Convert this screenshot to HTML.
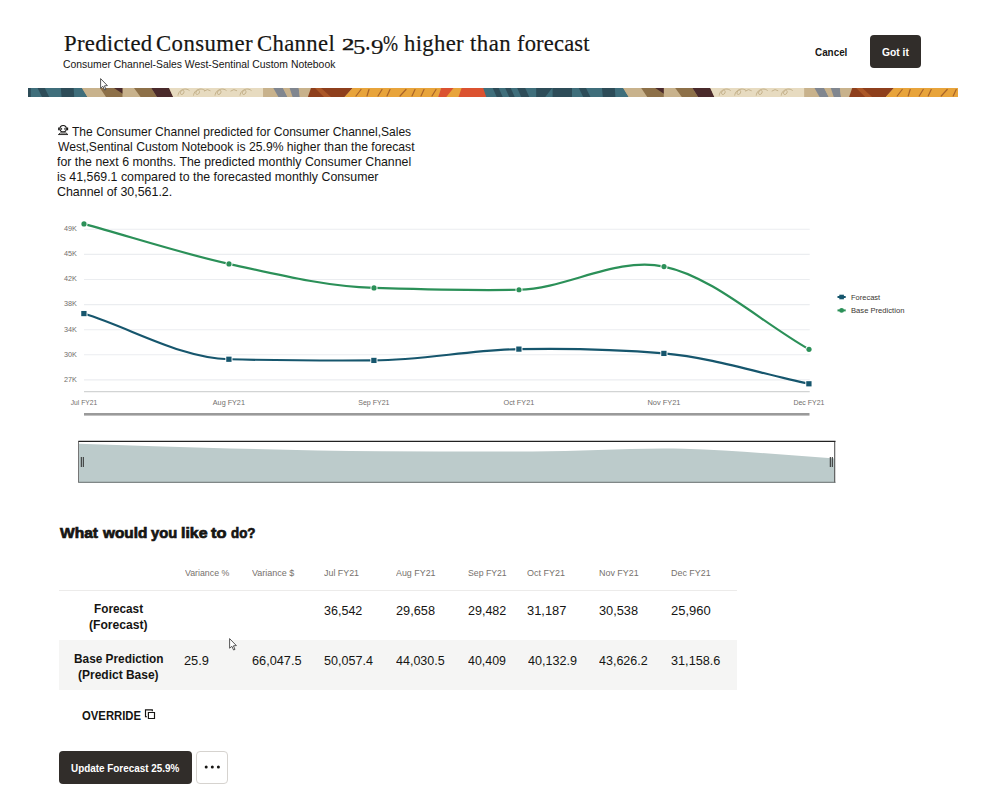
<!DOCTYPE html>
<html lang="en"><head><meta charset="utf-8"><title>Predicted Consumer Channel 25.9% higher than forecast</title>
<style>
html,body{margin:0;padding:0;background:#fff}
body{width:982px;height:811px;position:relative;overflow:hidden;font-family:"Liberation Sans",sans-serif}
h1,h2,p,figure{margin:0;font-size:inherit;font-weight:normal}
.t{position:absolute;white-space:nowrap;margin:0;transform-origin:0 0;display:block}
.abs{position:absolute}
.ax{font:8px "Liberation Sans",sans-serif;fill:#716e6b}
.lg{font:8px "Liberation Sans",sans-serif;fill:#3a3632}
.btn{position:absolute;box-sizing:border-box;border-radius:4px;border:0;padding:0;margin:0;font:inherit;background:none;overflow:visible;text-align:left}
.btn.dark{background:#312d2a}
.btn.more{background:#fff;border:1px solid #d6d3cf}
</style></head><body>
<header><h1><span class="t" style="left:63.63px;top:28.90px;font:400 22.3px/29px 'Liberation Serif', serif;color:#161513;transform:scaleX(1.0191);letter-spacing:0.293px;-webkit-text-stroke:0.18px #161513;">Predicted</span> <span class="t" style="left:156.19px;top:28.90px;font:400 22.3px/29px 'Liberation Serif', serif;color:#161513;transform:scaleX(1.0212);letter-spacing:0.404px;-webkit-text-stroke:0.18px #161513;">Consumer</span> <span class="t" style="left:257.39px;top:28.90px;font:400 22.3px/29px 'Liberation Serif', serif;color:#161513;transform:scaleX(1.0185);letter-spacing:0.332px;-webkit-text-stroke:0.18px #161513;">Channel</span> <span class="t" style="left:341.51px;top:34.90px;font:400 16.2px/21px 'Liberation Serif', serif;color:#161513;transform:scaleX(1.5256);-webkit-text-stroke:0.45px #161513;">2</span><span class="t" style="left:352.53px;top:33.40px;font:400 21.7px/28px 'Liberation Serif', serif;color:#161513;transform:scaleX(1.1473);-webkit-text-stroke:0.18px #161513;">5</span><span class="t" style="left:364.74px;top:24.40px;font:400 27px/35px 'Liberation Serif', serif;color:#161513;transform:scaleX(0.8333);-webkit-text-stroke:0.18px #161513;">.</span><span class="t" style="left:370.95px;top:33.30px;font:400 21.2px/28px 'Liberation Serif', serif;color:#161513;transform:scaleX(1.1855);-webkit-text-stroke:0.18px #161513;">9</span><span class="t" style="left:383.36px;top:28.90px;font:400 22.3px/29px 'Liberation Serif', serif;color:#161513;transform:scaleX(0.8096);-webkit-text-stroke:0.18px #161513;">%</span> <span class="t" style="left:404.09px;top:28.90px;font:400 22.3px/29px 'Liberation Serif', serif;color:#161513;transform:scaleX(1.0186);letter-spacing:0.310px;-webkit-text-stroke:0.18px #161513;">higher</span> <span class="t" style="left:470.09px;top:28.90px;font:400 22.3px/29px 'Liberation Serif', serif;color:#161513;transform:scaleX(1.0249);letter-spacing:0.460px;-webkit-text-stroke:0.18px #161513;">than</span> <span class="t" style="left:517.22px;top:28.90px;font:400 22.3px/29px 'Liberation Serif', serif;color:#161513;transform:scaleX(1.0113);letter-spacing:0.167px;-webkit-text-stroke:0.18px #161513;">forecast</span></h1><div class="t" style="left:63.28px;top:57.60px;font:400 10.3px/13px 'Liberation Sans', sans-serif;color:#161513;transform:scaleX(1.0090);">Consumer Channel-Sales West-Sentinal Custom Notebook</div><button type="button" class="btn ghost" style="left:806px;top:35px;width:51px;height:33px"><span class="t" style="left:9.31px;top:9.70px;font:700 10.5px/14px 'Liberation Sans', sans-serif;color:#161513;transform:scaleX(0.9399);">Cancel</span></button><button type="button" class="btn dark" style="left:869.6px;top:35.0px;width:51.6px;height:33px"><span class="t" style="left:11.99px;top:9.70px;font:700 10.5px/14px 'Liberation Sans', sans-serif;color:#fff;transform:scaleX(0.9812);">Got it</span></button></header>
<svg style="position:absolute;left:0;top:88px" width="982" height="9" viewBox="0 0 982 9"><defs><clipPath id="sc"><rect x="28" y="0" width="930" height="9"/></clipPath></defs><g clip-path="url(#sc)"><rect x="28" y="0" width="930" height="9" fill="#c8b28c"/><polygon points="-599.2,0 -459.2,0 -453.7,9 -596.2,9" fill="#3f6e7b"/><polygon points="-589.7,0 -583.7,0 -579.7,9 -585.7,9" fill="#2d4c58"/><polygon points="-577.2,0 -571.7,0 -567.7,9 -573.2,9" fill="#2d4c58"/><polygon points="-565.2,0 -557.2,0 -553.2,9 -561.2,9" fill="#2d4c58"/><polygon points="-546.2,0 -530.2,0 -537.2,9 -546.2,9" fill="#2d4c58"/><polygon points="-529.8,0 -510.4,0 -510.4,9 -529.8,9" fill="#2d4c58"/><polygon points="-503.6,0 -496.4,0 -492.0,9 -499.2,9" fill="#2d4c58"/><polygon points="-480.4,0 -467.6,0 -467.0,9 -479.6,9" fill="#2d4c58"/><polygon points="-459.2,0 -441.2,0 -435.2,9 -453.7,9" fill="#c8b28c"/><polygon points="-441.2,0 -418.5,0 -418.5,9 -435.2,9" fill="#8d7048"/><polygon points="-427.2,0.0 -418.5,0.0 -418.5,5.7" fill="#4a2a2b"/><polygon points="-418.5,0 -407.2,0 -400.6,9 -418.5,9" fill="#c8b28c"/><polygon points="-407.2,0 -390.0,0 -384.3,9 -400.6,9" fill="#8d7048"/><polygon points="-390.0,0 -372.1,0 -368.0,9 -384.3,9" fill="#4a2a2b"/><polygon points="-372.1,0 -278.0,0 -278.0,9 -368.0,9" fill="#e7dbc0"/><polygon points="-278.0,0 -267.9,0 -262.8,9 -278.0,9" fill="#c8b28c"/><polygon points="-267.9,0 -258.2,0 -253.7,9 -262.8,9" fill="#80868f"/><polygon points="-258.2,0 -251.6,0 -248.6,9 -253.7,9" fill="#c8b28c"/><polygon points="-251.6,0 -242.5,0 -241.4,9 -248.6,9" fill="#80868f"/><polygon points="-242.5,0 -230.2,0 -233.3,9 -241.4,9" fill="#c8b28c"/><polygon points="-230.2,0 -188.5,0 -196.6,9 -233.3,9" fill="#8e3f1c"/><polygon points="-226.2,0.0 -220.2,0.0 -210.2,9.0 -217.2,9.0" fill="#ab5727"/><polygon points="-188.5,0 -100.0,0 -103.0,9 -196.6,9" fill="#e8a43b"/><polygon points="-100.0,0 -56.2,0 -53.2,9 -103.0,9" fill="#db5230"/><polygon points="-87.7,0 -79.6,0 -82.7,9 -94.9,9" fill="#e8a43b"/><path d="M-363.2 7.6 c0.5 -5 5.5 -7.5 6 -4 c0.3 3 -4.5 4.5 -3.5 0.5 c1.5 -3.5 6 -4 9 -1.5" fill="none" stroke="#c2af88" stroke-width="0.95"/><path d="M-347.7 7.6 c0.5 -5 5.5 -7.5 6 -4 c0.3 3 -4.5 4.5 -3.5 0.5 c1.5 -3.5 6 -4 9 -1.5" fill="none" stroke="#c2af88" stroke-width="0.95"/><path d="M-326.2 7.6 c0.5 -5 5.5 -7.5 6 -4 c0.3 3 -4.5 4.5 -3.5 0.5 c1.5 -3.5 6 -4 9 -1.5" fill="none" stroke="#c2af88" stroke-width="0.95"/><path d="M-301.2 7.6 c0.5 -5 5.5 -7.5 6 -4 c0.3 3 -4.5 4.5 -3.5 0.5 c1.5 -3.5 6 -4 9 -1.5" fill="none" stroke="#c2af88" stroke-width="0.95"/><path d="M-337.2 3.2 q3.5 -3 6.5 -0.4" fill="none" stroke="#c2af88" stroke-width="0.9"/><path d="M-310.7 3.2 q3.5 -3 6.5 -0.4" fill="none" stroke="#c2af88" stroke-width="0.9"/><path d="M-185.2 8 l5.0 -6.5" fill="none" stroke="#a8642a" stroke-width="1.2" stroke-linecap="round"/><path d="M-174.2 8 l2.0 -6.5" fill="none" stroke="#a8642a" stroke-width="1.2" stroke-linecap="round"/><path d="M-163.2 8 l4.0 -6.5" fill="none" stroke="#a8642a" stroke-width="1.2" stroke-linecap="round"/><path d="M-154.2 8 l3.0 -6.5" fill="none" stroke="#a8642a" stroke-width="1.2" stroke-linecap="round"/><path d="M-141.2 8 l6.0 -6.5" fill="none" stroke="#a8642a" stroke-width="1.2" stroke-linecap="round"/><path d="M-129.2 8 l3.0 -6.5" fill="none" stroke="#a8642a" stroke-width="1.2" stroke-linecap="round"/><path d="M-120.2 8 l3.0 -6.5" fill="none" stroke="#a8642a" stroke-width="1.2" stroke-linecap="round"/><path d="M-109.2 8 l4.0 -6.5" fill="none" stroke="#a8642a" stroke-width="1.2" stroke-linecap="round"/><polygon points="-58.0,0 82.0,0 87.5,9 -55.0,9" fill="#3f6e7b"/><polygon points="-48.5,0 -42.5,0 -38.5,9 -44.5,9" fill="#2d4c58"/><polygon points="-36.0,0 -30.5,0 -26.5,9 -32.0,9" fill="#2d4c58"/><polygon points="-24.0,0 -16.0,0 -12.0,9 -20.0,9" fill="#2d4c58"/><polygon points="-5.0,0 11.0,0 4.0,9 -5.0,9" fill="#2d4c58"/><polygon points="11.4,0 30.8,0 30.8,9 11.4,9" fill="#2d4c58"/><polygon points="37.6,0 44.8,0 49.2,9 42.0,9" fill="#2d4c58"/><polygon points="60.8,0 73.6,0 74.2,9 61.6,9" fill="#2d4c58"/><polygon points="82.0,0 100.0,0 106.0,9 87.5,9" fill="#c8b28c"/><polygon points="100.0,0 122.7,0 122.7,9 106.0,9" fill="#8d7048"/><polygon points="114.0,0.0 122.7,0.0 122.7,5.7" fill="#4a2a2b"/><polygon points="122.7,0 134.0,0 140.6,9 122.7,9" fill="#c8b28c"/><polygon points="134.0,0 151.2,0 156.9,9 140.6,9" fill="#8d7048"/><polygon points="151.2,0 169.1,0 173.2,9 156.9,9" fill="#4a2a2b"/><polygon points="169.1,0 263.2,0 263.2,9 173.2,9" fill="#e7dbc0"/><polygon points="263.2,0 273.3,0 278.4,9 263.2,9" fill="#c8b28c"/><polygon points="273.3,0 283.0,0 287.5,9 278.4,9" fill="#80868f"/><polygon points="283.0,0 289.6,0 292.6,9 287.5,9" fill="#c8b28c"/><polygon points="289.6,0 298.7,0 299.8,9 292.6,9" fill="#80868f"/><polygon points="298.7,0 311.0,0 307.9,9 299.8,9" fill="#c8b28c"/><polygon points="311.0,0 352.7,0 344.6,9 307.9,9" fill="#8e3f1c"/><polygon points="315.0,0.0 321.0,0.0 331.0,9.0 324.0,9.0" fill="#ab5727"/><polygon points="352.7,0 441.2,0 438.2,9 344.6,9" fill="#e8a43b"/><polygon points="441.2,0 485.0,0 488.0,9 438.2,9" fill="#db5230"/><polygon points="453.5,0 461.6,0 458.5,9 446.3,9" fill="#e8a43b"/><path d="M178.0 7.6 c0.5 -5 5.5 -7.5 6 -4 c0.3 3 -4.5 4.5 -3.5 0.5 c1.5 -3.5 6 -4 9 -1.5" fill="none" stroke="#c2af88" stroke-width="0.95"/><path d="M193.5 7.6 c0.5 -5 5.5 -7.5 6 -4 c0.3 3 -4.5 4.5 -3.5 0.5 c1.5 -3.5 6 -4 9 -1.5" fill="none" stroke="#c2af88" stroke-width="0.95"/><path d="M215.0 7.6 c0.5 -5 5.5 -7.5 6 -4 c0.3 3 -4.5 4.5 -3.5 0.5 c1.5 -3.5 6 -4 9 -1.5" fill="none" stroke="#c2af88" stroke-width="0.95"/><path d="M240.0 7.6 c0.5 -5 5.5 -7.5 6 -4 c0.3 3 -4.5 4.5 -3.5 0.5 c1.5 -3.5 6 -4 9 -1.5" fill="none" stroke="#c2af88" stroke-width="0.95"/><path d="M204.0 3.2 q3.5 -3 6.5 -0.4" fill="none" stroke="#c2af88" stroke-width="0.9"/><path d="M230.5 3.2 q3.5 -3 6.5 -0.4" fill="none" stroke="#c2af88" stroke-width="0.9"/><path d="M356.0 8 l5.0 -6.5" fill="none" stroke="#a8642a" stroke-width="1.2" stroke-linecap="round"/><path d="M367.0 8 l2.0 -6.5" fill="none" stroke="#a8642a" stroke-width="1.2" stroke-linecap="round"/><path d="M378.0 8 l4.0 -6.5" fill="none" stroke="#a8642a" stroke-width="1.2" stroke-linecap="round"/><path d="M387.0 8 l3.0 -6.5" fill="none" stroke="#a8642a" stroke-width="1.2" stroke-linecap="round"/><path d="M400.0 8 l6.0 -6.5" fill="none" stroke="#a8642a" stroke-width="1.2" stroke-linecap="round"/><path d="M412.0 8 l3.0 -6.5" fill="none" stroke="#a8642a" stroke-width="1.2" stroke-linecap="round"/><path d="M421.0 8 l3.0 -6.5" fill="none" stroke="#a8642a" stroke-width="1.2" stroke-linecap="round"/><path d="M432.0 8 l4.0 -6.5" fill="none" stroke="#a8642a" stroke-width="1.2" stroke-linecap="round"/><polygon points="483.2,0 623.2,0 628.7,9 486.2,9" fill="#3f6e7b"/><polygon points="492.7,0 498.7,0 502.7,9 496.7,9" fill="#2d4c58"/><polygon points="505.2,0 510.7,0 514.7,9 509.2,9" fill="#2d4c58"/><polygon points="517.2,0 525.2,0 529.2,9 521.2,9" fill="#2d4c58"/><polygon points="536.2,0 552.2,0 545.2,9 536.2,9" fill="#2d4c58"/><polygon points="552.6,0 572.0,0 572.0,9 552.6,9" fill="#2d4c58"/><polygon points="578.8,0 586.0,0 590.4,9 583.2,9" fill="#2d4c58"/><polygon points="602.0,0 614.8,0 615.4,9 602.8,9" fill="#2d4c58"/><polygon points="623.2,0 641.2,0 647.2,9 628.7,9" fill="#c8b28c"/><polygon points="641.2,0 663.9,0 663.9,9 647.2,9" fill="#8d7048"/><polygon points="655.2,0.0 663.9,0.0 663.9,5.7" fill="#4a2a2b"/><polygon points="663.9,0 675.2,0 681.8,9 663.9,9" fill="#c8b28c"/><polygon points="675.2,0 692.4,0 698.1,9 681.8,9" fill="#8d7048"/><polygon points="692.4,0 710.3,0 714.4,9 698.1,9" fill="#4a2a2b"/><polygon points="710.3,0 804.4,0 804.4,9 714.4,9" fill="#e7dbc0"/><polygon points="804.4,0 814.5,0 819.6,9 804.4,9" fill="#c8b28c"/><polygon points="814.5,0 824.2,0 828.7,9 819.6,9" fill="#80868f"/><polygon points="824.2,0 830.8,0 833.8,9 828.7,9" fill="#c8b28c"/><polygon points="830.8,0 839.9,0 841.0,9 833.8,9" fill="#80868f"/><polygon points="839.9,0 852.2,0 849.1,9 841.0,9" fill="#c8b28c"/><polygon points="852.2,0 893.9,0 885.8,9 849.1,9" fill="#8e3f1c"/><polygon points="856.2,0.0 862.2,0.0 872.2,9.0 865.2,9.0" fill="#ab5727"/><polygon points="893.9,0 982.4,0 979.4,9 885.8,9" fill="#e8a43b"/><polygon points="982.4,0 1026.2,0 1029.2,9 979.4,9" fill="#db5230"/><polygon points="994.7,0 1002.8,0 999.7,9 987.5,9" fill="#e8a43b"/><path d="M719.2 7.6 c0.5 -5 5.5 -7.5 6 -4 c0.3 3 -4.5 4.5 -3.5 0.5 c1.5 -3.5 6 -4 9 -1.5" fill="none" stroke="#c2af88" stroke-width="0.95"/><path d="M734.7 7.6 c0.5 -5 5.5 -7.5 6 -4 c0.3 3 -4.5 4.5 -3.5 0.5 c1.5 -3.5 6 -4 9 -1.5" fill="none" stroke="#c2af88" stroke-width="0.95"/><path d="M756.2 7.6 c0.5 -5 5.5 -7.5 6 -4 c0.3 3 -4.5 4.5 -3.5 0.5 c1.5 -3.5 6 -4 9 -1.5" fill="none" stroke="#c2af88" stroke-width="0.95"/><path d="M781.2 7.6 c0.5 -5 5.5 -7.5 6 -4 c0.3 3 -4.5 4.5 -3.5 0.5 c1.5 -3.5 6 -4 9 -1.5" fill="none" stroke="#c2af88" stroke-width="0.95"/><path d="M745.2 3.2 q3.5 -3 6.5 -0.4" fill="none" stroke="#c2af88" stroke-width="0.9"/><path d="M771.7 3.2 q3.5 -3 6.5 -0.4" fill="none" stroke="#c2af88" stroke-width="0.9"/><path d="M897.2 8 l5.0 -6.5" fill="none" stroke="#a8642a" stroke-width="1.2" stroke-linecap="round"/><path d="M908.2 8 l2.0 -6.5" fill="none" stroke="#a8642a" stroke-width="1.2" stroke-linecap="round"/><path d="M919.2 8 l4.0 -6.5" fill="none" stroke="#a8642a" stroke-width="1.2" stroke-linecap="round"/><path d="M928.2 8 l3.0 -6.5" fill="none" stroke="#a8642a" stroke-width="1.2" stroke-linecap="round"/><path d="M941.2 8 l6.0 -6.5" fill="none" stroke="#a8642a" stroke-width="1.2" stroke-linecap="round"/><path d="M953.2 8 l3.0 -6.5" fill="none" stroke="#a8642a" stroke-width="1.2" stroke-linecap="round"/><path d="M962.2 8 l3.0 -6.5" fill="none" stroke="#a8642a" stroke-width="1.2" stroke-linecap="round"/><path d="M973.2 8 l4.0 -6.5" fill="none" stroke="#a8642a" stroke-width="1.2" stroke-linecap="round"/></g></svg>
<p><svg class="abs" style="left:56px;top:123px" width="14" height="14" viewBox="56 123 14 14"><g fill="none" stroke="#161513" stroke-width="1.1"><circle cx="63.15" cy="128.65" r="3.15"/><path d="M58.9 127.5 v2.7 M67.4 127.5 v2.7" stroke-width="1.5"/><path d="M61.6 127.9 v1.9 M64.85 127.9 v1.9" stroke-width="0.9"/><path d="M60.3 133 H66.1 L67.9 134.55 H58.4 Z" stroke-linejoin="round" stroke-width="0.9"/></g></svg><span class="t" style="left:72.26px;top:123.90px;font:400 12.2px/16px 'Liberation Sans', sans-serif;color:#161513;transform:scaleX(0.9894);">The Consumer Channel predicted for Consumer Channel,Sales</span> <span class="t" style="left:57.50px;top:138.90px;font:400 12.2px/16px 'Liberation Sans', sans-serif;color:#161513;transform:scaleX(0.9974);">West,Sentinal Custom Notebook is 25.9% higher than the forecast</span> <span class="t" style="left:57.38px;top:153.90px;font:400 12.2px/16px 'Liberation Sans', sans-serif;color:#161513;transform:scaleX(1.0119);">for the next 6 months. The predicted monthly Consumer Channel</span> <span class="t" style="left:56.70px;top:168.80px;font:400 12.2px/16px 'Liberation Sans', sans-serif;color:#161513;transform:scaleX(1.0139);">is 41,569.1 compared to the forecasted monthly Consumer</span> <span class="t" style="left:56.88px;top:183.80px;font:400 12.2px/16px 'Liberation Sans', sans-serif;color:#161513;transform:scaleX(1.0181);">Channel of 30,561.2.</span></p>
<figure><svg style="position:absolute;left:0;top:0" width="982" height="811" viewBox="0 0 982 811"><line x1="84" x2="809.7" y1="229.3" y2="229.3" stroke="#ebedf0" stroke-width="1.1"/><text x="64" y="231.1" textLength="12.9" lengthAdjust="spacingAndGlyphs" class="ax">49K</text><line x1="84" x2="809.7" y1="254.4" y2="254.4" stroke="#ebedf0" stroke-width="1.1"/><text x="64" y="256.2" textLength="12.9" lengthAdjust="spacingAndGlyphs" class="ax">45K</text><line x1="84" x2="809.7" y1="279.5" y2="279.5" stroke="#ebedf0" stroke-width="1.1"/><text x="64" y="281.3" textLength="12.9" lengthAdjust="spacingAndGlyphs" class="ax">42K</text><line x1="84" x2="809.7" y1="304.6" y2="304.6" stroke="#ebedf0" stroke-width="1.1"/><text x="64" y="306.4" textLength="12.9" lengthAdjust="spacingAndGlyphs" class="ax">38K</text><line x1="84" x2="809.7" y1="329.7" y2="329.7" stroke="#ebedf0" stroke-width="1.1"/><text x="64" y="331.5" textLength="12.9" lengthAdjust="spacingAndGlyphs" class="ax">34K</text><line x1="84" x2="809.7" y1="354.8" y2="354.8" stroke="#ebedf0" stroke-width="1.1"/><text x="64" y="356.6" textLength="12.9" lengthAdjust="spacingAndGlyphs" class="ax">30K</text><line x1="84" x2="809.7" y1="379.9" y2="379.9" stroke="#ebedf0" stroke-width="1.1"/><text x="64" y="381.7" textLength="12.9" lengthAdjust="spacingAndGlyphs" class="ax">27K</text><line x1="84" x2="809.7" y1="391.7" y2="391.7" stroke="#d2d4d4" stroke-width="1.2"/><text x="70.7" y="405.4" textLength="26.5" lengthAdjust="spacingAndGlyphs" class="ax">Jul FY21</text><text x="212.8" y="405.4" textLength="32.1" lengthAdjust="spacingAndGlyphs" class="ax">Aug FY21</text><text x="358.2" y="405.4" textLength="31.3" lengthAdjust="spacingAndGlyphs" class="ax">Sep FY21</text><text x="503.6" y="405.4" textLength="30.6" lengthAdjust="spacingAndGlyphs" class="ax">Oct FY21</text><text x="647.4" y="405.4" textLength="33.1" lengthAdjust="spacingAndGlyphs" class="ax">Nov FY21</text><text x="793.4" y="405.4" textLength="31.0" lengthAdjust="spacingAndGlyphs" class="ax">Dec FY21</text><rect x="84" y="413" width="725.5" height="2.6" fill="#9a9a9a"/><path d="M84.00 313.57 C132.33 328.80 180.67 358.11 229.00 359.25 C277.33 360.39 325.67 360.66 374.00 360.42 C422.33 360.17 470.67 349.96 519.00 349.11 C567.33 348.25 615.67 349.19 664.00 353.41 C712.33 357.63 760.67 373.66 809.00 383.79" fill="none" stroke="#16566d" stroke-width="2.2"/><path d="M84.00 223.90 C132.33 237.23 180.67 253.22 229.00 263.89 C277.33 274.56 325.67 286.50 374.00 287.92 C422.33 289.33 470.67 290.92 519.00 289.75 C567.33 288.58 615.67 256.65 664.00 266.57 C712.33 276.50 760.67 321.72 809.00 349.29" fill="none" stroke="#2b9058" stroke-width="2.2"/><rect x="81.25" y="310.97" width="5.3" height="5.2" fill="#16566d" stroke="#fff" stroke-width="1.8" paint-order="stroke"/><rect x="226.25" y="356.65" width="5.3" height="5.2" fill="#16566d" stroke="#fff" stroke-width="1.8" paint-order="stroke"/><rect x="371.25" y="357.82" width="5.3" height="5.2" fill="#16566d" stroke="#fff" stroke-width="1.8" paint-order="stroke"/><rect x="516.25" y="346.51" width="5.3" height="5.2" fill="#16566d" stroke="#fff" stroke-width="1.8" paint-order="stroke"/><rect x="661.25" y="350.81" width="5.3" height="5.2" fill="#16566d" stroke="#fff" stroke-width="1.8" paint-order="stroke"/><rect x="806.25" y="381.19" width="5.3" height="5.2" fill="#16566d" stroke="#fff" stroke-width="1.8" paint-order="stroke"/><circle cx="84.00" cy="223.90" r="2.6" fill="#2b9058" stroke="#fff" stroke-width="1.8" paint-order="stroke"/><circle cx="229.00" cy="263.89" r="2.6" fill="#2b9058" stroke="#fff" stroke-width="1.8" paint-order="stroke"/><circle cx="374.00" cy="287.92" r="2.6" fill="#2b9058" stroke="#fff" stroke-width="1.8" paint-order="stroke"/><circle cx="519.00" cy="289.75" r="2.6" fill="#2b9058" stroke="#fff" stroke-width="1.8" paint-order="stroke"/><circle cx="664.00" cy="266.57" r="2.6" fill="#2b9058" stroke="#fff" stroke-width="1.8" paint-order="stroke"/><circle cx="809.00" cy="349.29" r="2.6" fill="#2b9058" stroke="#fff" stroke-width="1.8" paint-order="stroke"/><line x1="837.5" x2="845.7" y1="297" y2="297" stroke="#16566d" stroke-width="2"/><rect x="839.3" y="294.7" width="4.6" height="4.6" fill="#16566d"/><line x1="837.5" x2="845.7" y1="310.4" y2="310.4" stroke="#2b9058" stroke-width="2"/><circle cx="841.6" cy="310.4" r="2.4" fill="#2b9058"/><text x="851" y="299.9" textLength="29.2" lengthAdjust="spacingAndGlyphs" class="lg">Forecast</text><text x="851" y="313.3" textLength="53.4" lengthAdjust="spacingAndGlyphs" class="lg">Base Prediction</text><rect x="78.8" y="441" width="756.4" height="41.5" fill="#fff"/><path d="M79.00 443.80 C129.40 445.35 179.80 447.22 230.20 448.46 C280.60 449.70 331.00 451.10 381.40 451.26 C431.80 451.42 482.20 451.61 532.60 451.47 C583.00 451.34 633.40 447.62 683.80 448.77 C734.20 449.93 784.60 455.20 835.00 458.41 L835 482.5 L79 482.5 Z" fill="#bccbcb"/><path d="M78.5 482.5 V441.5" stroke="#767676" stroke-width="1" fill="none"/><path d="M834.7 482.5 V441.5" stroke="#555" stroke-width="1.1" fill="none"/><path d="M78.3 482.3 H835.5" stroke="#6a7070" stroke-width="1" fill="none"/><path d="M78.3 441.3 H835.5" stroke="#222" stroke-width="1.2" fill="none"/><line x1="81.3" x2="81.3" y1="457" y2="467" stroke="#2a2a2a" stroke-width="1"/><line x1="83.3" x2="83.3" y1="457" y2="467" stroke="#2a2a2a" stroke-width="1"/><line x1="830.3" x2="830.3" y1="457" y2="467" stroke="#2a2a2a" stroke-width="1"/><line x1="832.3" x2="832.3" y1="457" y2="467" stroke="#2a2a2a" stroke-width="1"/></svg></figure>
<h2><span class="t" style="left:59.90px;top:524.20px;font:700 14.6px/19px 'Liberation Sans', sans-serif;color:#161513;transform:scaleX(1.0662);-webkit-text-stroke:0.7px #161513;">What</span> <span class="t" style="left:102.78px;top:524.20px;font:700 14.6px/19px 'Liberation Sans', sans-serif;color:#161513;transform:scaleX(1.0518);-webkit-text-stroke:0.7px #161513;">would</span> <span class="t" style="left:151.03px;top:524.20px;font:700 14.6px/19px 'Liberation Sans', sans-serif;color:#161513;transform:scaleX(1.0076);-webkit-text-stroke:0.7px #161513;">you</span> <span class="t" style="left:180.67px;top:524.20px;font:700 14.6px/19px 'Liberation Sans', sans-serif;color:#161513;transform:scaleX(1.0899);-webkit-text-stroke:0.7px #161513;">like</span> <span class="t" style="left:211.44px;top:524.20px;font:700 14.6px/19px 'Liberation Sans', sans-serif;color:#161513;transform:scaleX(1.1217);-webkit-text-stroke:0.7px #161513;">to</span> <span class="t" style="left:230.67px;top:524.20px;font:700 14.6px/19px 'Liberation Sans', sans-serif;color:#161513;transform:scaleX(0.9154);-webkit-text-stroke:0.7px #161513;">do?</span></h2>
<div role="table"><div role="row"><span role="columnheader" class="t" style="left:59.3px;top:560px;width:119px;height:30px"></span><span class="t" role="columnheader" style="left:184.90px;top:566.90px;font:400 9.5px/12px 'Liberation Sans', sans-serif;color:#76716c;transform:scaleX(0.9253);">Variance %</span><span class="t" role="columnheader" style="left:252.40px;top:566.90px;font:400 9.5px/12px 'Liberation Sans', sans-serif;color:#76716c;transform:scaleX(0.9461);">Variance $</span><span class="t" role="columnheader" style="left:324.17px;top:566.90px;font:400 9.5px/12px 'Liberation Sans', sans-serif;color:#76716c;transform:scaleX(0.9347);">Jul FY21</span><span class="t" role="columnheader" style="left:396.10px;top:566.90px;font:400 9.5px/12px 'Liberation Sans', sans-serif;color:#76716c;transform:scaleX(0.9352);">Aug FY21</span><span class="t" role="columnheader" style="left:467.61px;top:566.90px;font:400 9.5px/12px 'Liberation Sans', sans-serif;color:#76716c;transform:scaleX(0.9158);">Sep FY21</span><span class="t" role="columnheader" style="left:527.39px;top:566.90px;font:400 9.5px/12px 'Liberation Sans', sans-serif;color:#76716c;transform:scaleX(0.9476);">Oct FY21</span><span class="t" role="columnheader" style="left:598.99px;top:566.90px;font:400 9.5px/12px 'Liberation Sans', sans-serif;color:#76716c;transform:scaleX(0.9405);">Nov FY21</span><span class="t" role="columnheader" style="left:670.59px;top:566.90px;font:400 9.5px/12px 'Liberation Sans', sans-serif;color:#76716c;transform:scaleX(0.9405);">Dec FY21</span></div><div class="abs" style="left:59.3px;top:590px;width:677.5px;height:1px;background:#ecebea"></div><div role="row"><span role="rowheader"><span class="t" style="left:93.94px;top:601.20px;font:700 12px/16px 'Liberation Sans', sans-serif;color:#161513;transform:scaleX(0.9808);">Forecast</span> <span class="t" style="left:89.25px;top:616.60px;font:700 12px/16px 'Liberation Sans', sans-serif;color:#161513;transform:scaleX(1.0106);">(Forecast)</span></span><span class="t" role="cell" style="left:324.26px;top:602.50px;font:400 12px/16px 'Liberation Sans', sans-serif;color:#161513;transform:scaleX(1.0440);">36,542</span><span class="t" role="cell" style="left:395.66px;top:602.50px;font:400 12px/16px 'Liberation Sans', sans-serif;color:#161513;transform:scaleX(1.0615);">29,658</span><span class="t" role="cell" style="left:467.77px;top:602.50px;font:400 12px/16px 'Liberation Sans', sans-serif;color:#161513;transform:scaleX(1.0436);">29,482</span><span class="t" role="cell" style="left:527.35px;top:602.50px;font:400 12px/16px 'Liberation Sans', sans-serif;color:#161513;transform:scaleX(1.0747);">31,187</span><span class="t" role="cell" style="left:599.25px;top:602.50px;font:400 12px/16px 'Liberation Sans', sans-serif;color:#161513;transform:scaleX(1.0646);">30,538</span><span class="t" role="cell" style="left:670.65px;top:602.50px;font:400 12px/16px 'Liberation Sans', sans-serif;color:#161513;transform:scaleX(1.0822);">25,960</span></div><div role="row"><div class="abs" style="left:59.3px;top:640px;width:677.5px;height:50px;background:#f5f5f4"></div><span role="rowheader"><span class="t" style="left:73.63px;top:650.80px;font:700 12px/16px 'Liberation Sans', sans-serif;color:#161513;transform:scaleX(0.9867);">Base Prediction</span> <span class="t" style="left:78.26px;top:666.50px;font:700 12px/16px 'Liberation Sans', sans-serif;color:#161513;transform:scaleX(0.9990);">(Predict Base)</span></span><span class="t" role="cell" style="left:184.46px;top:652.60px;font:400 12px/16px 'Liberation Sans', sans-serif;color:#161513;transform:scaleX(1.0675);">25.9</span><span class="t" role="cell" style="left:251.96px;top:652.60px;font:400 12px/16px 'Liberation Sans', sans-serif;color:#161513;transform:scaleX(1.0610);">66,047.5</span><span class="t" role="cell" style="left:324.20px;top:652.60px;font:400 12px/16px 'Liberation Sans', sans-serif;color:#161513;transform:scaleX(1.0475);">50,057.4</span><span class="t" role="cell" style="left:395.75px;top:652.60px;font:400 12px/16px 'Liberation Sans', sans-serif;color:#161513;transform:scaleX(1.0418);">44,030.5</span><span class="t" role="cell" style="left:468.15px;top:652.60px;font:400 12px/16px 'Liberation Sans', sans-serif;color:#161513;transform:scaleX(1.0332);">40,409</span><span class="t" role="cell" style="left:527.55px;top:652.60px;font:400 12px/16px 'Liberation Sans', sans-serif;color:#161513;transform:scaleX(1.0497);">40,132.9</span><span class="t" role="cell" style="left:599.45px;top:652.60px;font:400 12px/16px 'Liberation Sans', sans-serif;color:#161513;transform:scaleX(1.0432);">43,626.2</span><span class="t" role="cell" style="left:670.86px;top:652.60px;font:400 12px/16px 'Liberation Sans', sans-serif;color:#161513;transform:scaleX(1.0568);">31,158.6</span></div></div>
<div><span class="t" style="left:81.55px;top:708.10px;font:700 12.2px/16px 'Liberation Sans', sans-serif;color:#161513;transform:scaleX(0.9280);">OVERRIDE</span><svg class="abs" style="left:144px;top:708px" width="13" height="13" viewBox="144 708 13 13"><path d="M148.4 712.5 H154.5 V718.5 H148.4 Z" fill="none" stroke="#161513" stroke-width="1.15"/><path d="M152.3 711.2 V709.8 H145.5 V716.7 H147" fill="none" stroke="#161513" stroke-width="1.15"/></svg></div>
<div><button type="button" class="btn dark" style="left:59.2px;top:751.4px;width:133px;height:32.6px"><span class="t" style="left:12.01px;top:9.60px;font:700 10.9px/14px 'Liberation Sans', sans-serif;color:#fff;transform:scaleX(0.9085);">Update Forecast 25.9%</span></button><button type="button" class="btn more" aria-label="More" style="left:195.6px;top:751.4px;width:32px;height:32.6px"><svg class="abs" style="left:-1px;top:-1px" width="32" height="32.6" viewBox="195.6 751.4 32 32.6"><circle cx="205.8" cy="767.4" r="1.5" fill="#161513"/><circle cx="211.9" cy="767.4" r="1.5" fill="#161513"/><circle cx="218" cy="767.4" r="1.5" fill="#161513"/></svg></button></div>
<svg style="position:absolute;left:99.8px;top:77.7px" width="10" height="14" viewBox="0 0 10 14"><path d="M0.6 0.6 V10.2 L2.9 8.3 L4.6 12 L6 11.4 L4.4 7.8 L7.4 7.6 Z" fill="#fff" stroke="#444" stroke-width="0.9" stroke-linejoin="round"/></svg><svg style="position:absolute;left:228.8px;top:637.7px" width="10" height="14" viewBox="0 0 10 14"><path d="M0.6 0.6 V10.2 L2.9 8.3 L4.6 12 L6 11.4 L4.4 7.8 L7.4 7.6 Z" fill="#fff" stroke="#444" stroke-width="0.9" stroke-linejoin="round"/></svg>
</body></html>
